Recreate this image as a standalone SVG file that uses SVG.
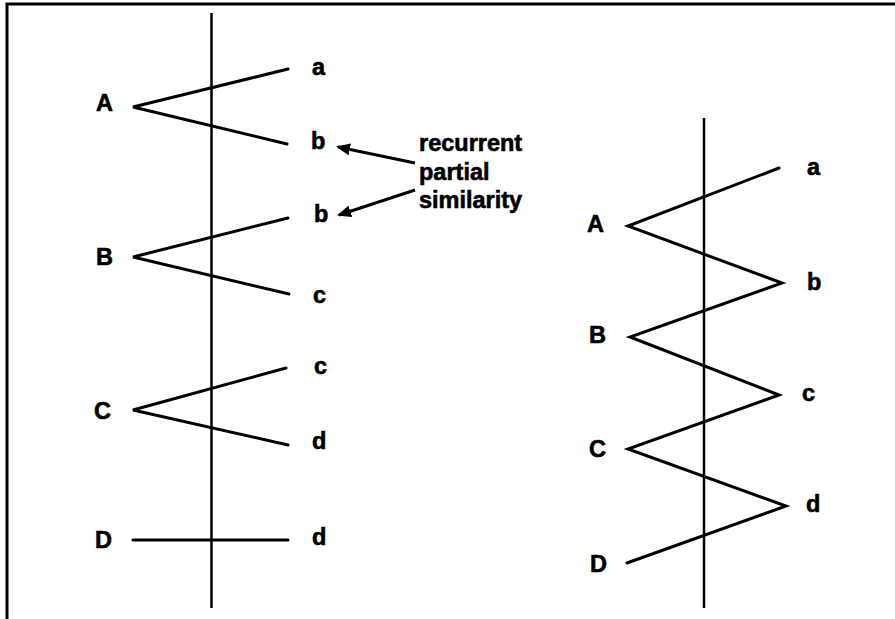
<svg xmlns="http://www.w3.org/2000/svg" width="895" height="619" viewBox="0 0 895 619">
<style>
.frame{stroke:#000;stroke-width:3;fill:none}
.axis{stroke:#000;stroke-width:2.5;fill:none}
.ln{stroke:#000;stroke-width:3;fill:none;stroke-linecap:round;stroke-linejoin:miter}
.arr{stroke:#000;stroke-width:3;fill:none}
text{font-family:"Liberation Sans",Arial,sans-serif;font-weight:bold;font-size:23.5px;fill:#000;stroke:#000;stroke-width:0.6}
</style>
<defs>
<marker id="ah" markerWidth="14" markerHeight="12" refX="12" refY="6" orient="auto" markerUnits="userSpaceOnUse">
<path d="M0,0 L14,6 L0,12 Z" fill="#000"/>
</marker>
</defs>
<rect width="895" height="619" fill="#fff"/>
<g id="frame">
<path class="frame" d="M7,619 L7,4 L895,4"/>
</g>
<g id="connectors">
<line class="axis" x1="211.5" y1="13" x2="211.5" y2="608"/>
<polyline class="ln" points="288,69 133,107 287,144"/>
<polyline class="ln" points="288,218 133,257 289,294"/>
<polyline class="ln" points="286,368 133,410 288,445"/>
<line class="ln" x1="133" y1="540" x2="288" y2="540"/>
<line class="axis" x1="704" y1="118" x2="704" y2="608"/>
<polyline class="ln" points="779,168 628,226 782,283 630,337 779,395 628,449 786,506 627,563"/>
<line class="arr" x1="415" y1="163" x2="338" y2="147" marker-end="url(#ah)"/>
<line class="arr" x1="415" y1="190" x2="339" y2="215" marker-end="url(#ah)"/>
</g>
<g id="left-labels">
<g id="L-A"><text x="96" y="111">A</text></g>
<g id="L-B"><text x="96" y="265">B</text></g>
<g id="L-C"><text x="94" y="419">C</text></g>
<g id="L-D"><text x="95" y="548">D</text></g>
<g id="L-a"><text x="312" y="75">a</text></g>
<g id="L-b1"><text x="311" y="149">b</text></g>
<g id="L-b2"><text x="314" y="222">b</text></g>
<g id="L-c1"><text x="313" y="303">c</text></g>
<g id="L-c2"><text x="314" y="374">c</text></g>
<g id="L-d1"><text x="312" y="449">d</text></g>
<g id="L-d2"><text x="312" y="545">d</text></g>
</g>
<g id="note">
<text x="419" y="151">recurrent</text>
<text x="419" y="180">partial</text>
<text x="419" y="208">similarity</text>
</g>
<g id="right-labels">
<g id="R-A"><text x="587" y="232">A</text></g>
<g id="R-B"><text x="589" y="343">B</text></g>
<g id="R-C"><text x="589" y="457">C</text></g>
<g id="R-D"><text x="590" y="572">D</text></g>
<g id="R-a"><text x="807" y="175">a</text></g>
<g id="R-b"><text x="807" y="290">b</text></g>
<g id="R-c"><text x="802" y="401">c</text></g>
<g id="R-d"><text x="806" y="512">d</text></g>
</g>
</svg>
